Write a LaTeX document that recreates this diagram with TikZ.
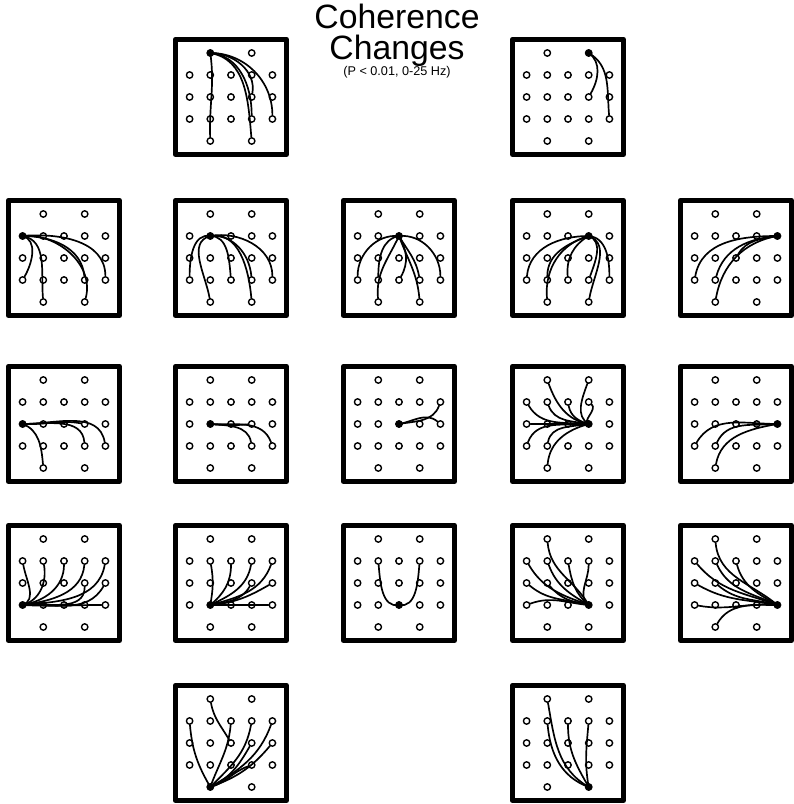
\documentclass[tikz,border=0pt]{standalone}
\usepackage{fontspec}
\setmainfont{Liberation Sans}
% one head map: name, centre x, centre y, source electrode
\newcommand{\eegpanel}[4]{%
  \draw[frame] (#2-55.5,#3-57.5) rectangle (#2+55.5,#3+57.5);
  \foreach \e/\i/\j in {Fp1/-1/2,Fp2/1/2,F7/-2/1,F3/-1/1,Fz/0/1,F4/1/1,F8/2/1,
      T3/-2/0,C3/-1/0,Cz/0/0,C4/1/0,T4/2/0,T5/-2/-1,P3/-1/-1,Pz/0/-1,P4/1/-1,T6/2/-1,
      O1/-1/-2,O2/1/-2}
    \node[elec] (#1-\e) at ({#2+\i*20.7},{#3+\j*22}) {};
  \fill (#1-#4) circle (3.5);
}
\begin{document}
\begin{tikzpicture}[x=0.025cm, y=0.025cm, line join=round, line cap=round,
    frame/.style={line width=0.13cm},
    elec/.style={circle, draw, line width=1pt, inner sep=0pt, minimum size=0.16cm, fill=white},
    link/.style={line width=1.2pt}]
  \useasboundingbox (0,0) rectangle (794,804);
  \node[anchor=base] (title) at (397,775) {\fontsize{24}{24}\selectfont Coherence};
  \node[anchor=base] (title2) at (397,744) {\fontsize{24}{24}\selectfont Changes};
  \node[anchor=base] (sub) at (397,728) {\fontsize{9}{9}\selectfont (P < 0.01, 0-25 Hz)};
  % panels
  \eegpanel{fp1}{231}{707}{Fp1} \eegpanel{fp2}{568}{707}{Fp2}
  \eegpanel{f7}{64}{546}{F7} \eegpanel{f3}{231}{546}{F3} \eegpanel{fz}{399}{546}{Fz}
  \eegpanel{f4}{568}{546}{F4} \eegpanel{f8}{736}{546}{F8}
  \eegpanel{t3}{64}{380}{T3} \eegpanel{c3}{231}{380}{C3} \eegpanel{cz}{399}{380}{Cz}
  \eegpanel{c4}{568}{380}{C4} \eegpanel{t4}{736}{380}{T4}
  \eegpanel{t5}{64}{221}{T5} \eegpanel{p3}{231}{221}{P3} \eegpanel{pz}{399}{221}{Pz}
  \eegpanel{p4}{568}{221}{P4} \eegpanel{t6}{736}{221}{T6}
  \eegpanel{o1}{231}{61}{O1} \eegpanel{o2}{568}{61}{O2}
  % coherence links
  \foreach \t/\o/\n in {O1/-82/92, O2/-10/95, P4/-5/90, C4/0/80, T6/0/90}
    \draw[link] (fp1-Fp1.center) to[out=\o,in=\n] (fp1-\t);
  \foreach \t/\o/\n in {T6/-30/95, C4/-35/60}
    \draw[link] (fp2-Fp2.center) to[out=\o,in=\n] (fp2-\t);
  \foreach \t/\o/\n in {O1/-10/95, T5/-15/60, P4/0/95, T6/5/90, O2/5/75}
    \draw[link] (f7-F7.center) to[out=\o,in=\n] (f7-\t);
  \foreach \t/\o/\n in {T5/170/90, O1/195/100, Pz/0/95, P4/5/95, O2/10/95, T6/10/90}
    \draw[link] (f3-F3.center) to[out=\o,in=\n] (f3-\t);
  \foreach \t/\o/\n in {T5/175/90, P3/190/90, O1/-115/95, Pz/-60/60, P4/-60/100, O2/-70/95, T6/5/90}
    \draw[link] (fz-Fz.center) to[out=\o,in=\n] (fz-\t);
  \foreach \t/\o/\n in {T5/180/85, O1/195/95, P3/200/90, Pz/210/95, P4/-20/70, O2/-20/80, T6/-5/90}
    \draw[link] (f4-F4.center) to[out=\o,in=\n] (f4-\t);
  \foreach \t/\o/\n in {T5/180/80, P3/185/75, Cz/190/60, O1/190/80}
    \draw[link] (f8-F8.center) to[out=\o,in=\n] (f8-\t);
  \foreach \t/\o/\n in {C4/-3/170, P4/0/95, T6/0/100, O1/-20/95}
    \draw[link] (t3-T3.center) to[out=\o,in=\n] (t3-\t);
  \foreach \t/\o/\n in {C4/-5/185, P4/-5/100, T6/-3/110}
    \draw[link] (c3-C3.center) to[out=\o,in=\n] (c3-\t);
  \foreach \t/\o/\n in {F8/10/-110, T4/10/140}
    \draw[link] (cz-Cz.center) to[out=\o,in=\n] (cz-\t);
  \foreach \t/\o/\n in {Fp1/170/-70, Fp2/150/-110, F7/175/-60, F3/170/-70, Fz/165/-80,
      F4/160/-40, T3/180/0, T5/185/70, P3/190/80, O1/195/85}
    \draw[link] (c4-C4.center) to[out=\o,in=\n] (c4-\t);
  \foreach \t/\o/\n in {T5/180/60, P3/185/65, O1/190/80}
    \draw[link] (t4-T4.center) to[out=\o,in=\n] (t4-\t);
  \foreach \t/\o/\n in {F7/20/-80, F3/15/-80, Fz/10/-90, F4/8/-95, F8/5/-100, C4/5/-90,
      T4/3/-120, P4/0/180, T6/-3/180}
    \draw[link] (t5-T5.center) to[out=\o,in=\n] (t5-\t);
  \foreach \t/\o/\n in {F3/80/-80, Fz/40/-90, F4/25/-100, F8/15/-110, C4/10/-120, T4/5/-150, T6/0/180}
    \draw[link] (p3-P3.center) to[out=\o,in=\n] (p3-\t);
  \foreach \t/\o/\n in {F3/190/-85, F4/-10/-95}
    \draw[link] (pz-Pz.center) to[out=\o,in=\n] (pz-\t);
  \foreach \t/\o/\n in {Fp1/120/-85, F7/160/-60, F3/150/-70, Fz/140/-80, F4/140/-90,
      T3/165/-40, C3/170/-50, T5/175/20}
    \draw[link] (p4-P4.center) to[out=\o,in=\n] (p4-\t);
  \foreach \t/\o/\n in {Fp1/140/-85, F7/160/-50, F3/155/-65, Fz/150/-75, T3/170/-30,
      C3/165/-40, T5/175/-10, O1/180/60}
    \draw[link] (t6-T6.center) to[out=\o,in=\n] (t6-\t);
  \foreach \t/\o/\n in {F7/120/-85, Fz/70/-95, F4/45/-100, F8/30/-110, C4/25/-120, T4/20/-130, P4/15/-160}
    \draw[link] (o1-O1.center) to[out=\o,in=\n] (o1-\t);
  \draw[link] (o1-Fp1) to[out=-80,in=120] (o1-Cz);
  \foreach \t/\o/\n in {Fp1/150/-80, F3/160/-85, Fz/120/-90, F4/100/-95}
    \draw[link] (o2-O2.center) to[out=\o,in=\n] (o2-\t);
\end{tikzpicture}
\end{document}
